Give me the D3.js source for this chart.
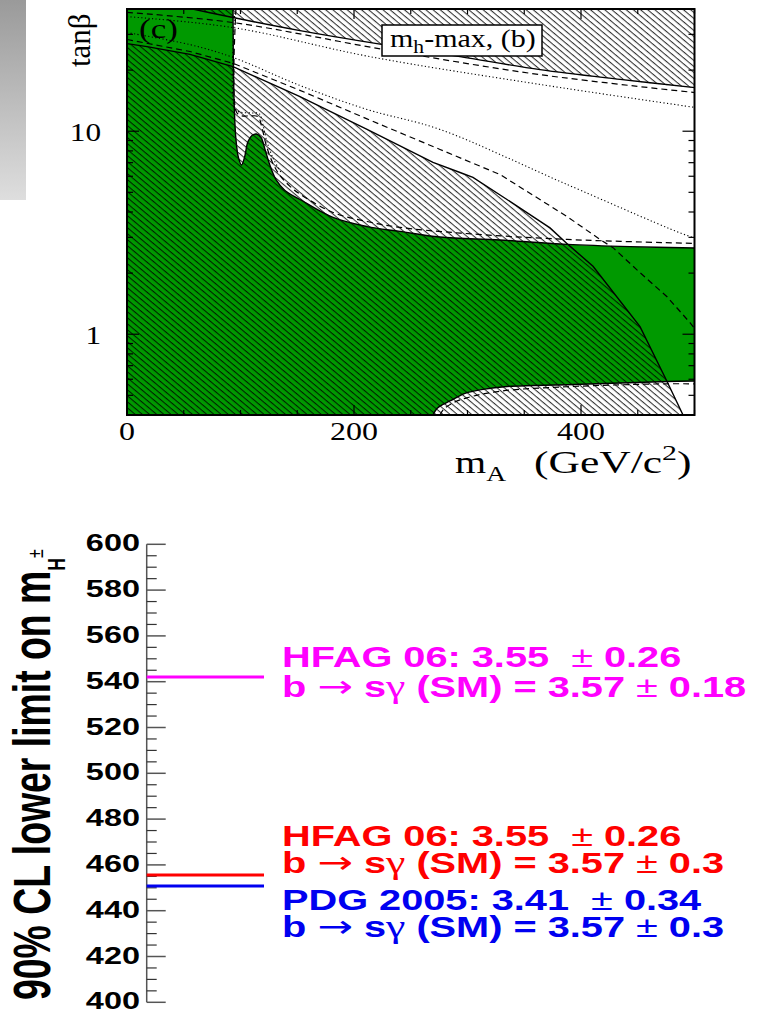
<!DOCTYPE html>
<html>
<head>
<meta charset="utf-8">
<script src="https://cdn.jsdelivr.net/npm/d3@7"></script>
<style>
  body { margin: 0; background: #fff; }
  svg { display: block; }
  text { white-space: pre; }
</style>
</head>
<body>
<svg id="fig" width="759" height="1011"></svg>
<script>
// ---------------- (mA, tanβ) exclusion plane ----------------
const massMajor = [0, 200, 400];
const massMinor = [50, 100, 150, 250, 300, 350, 450, 500];
const tanbMajor = [1, 10];
const tanbMinor = [0.4, 0.5, 0.6, 0.7, 0.8, 0.9, 2, 3, 4, 5, 6, 7, 8, 9, 20, 30, 40];

// edge of the unexcluded (white) region, running from the top down through the dip
const greenEdge = [
  [93.4, 40], [94.3, 14.3], [96.0, 9.10], [98.2, 7.41], [100.9, 6.82], [103.5, 7.41],
  [106.6, 8.89], [110.1, 9.52], [114.1, 9.69], [118.1, 9.31], [121.6, 8.13], [126.0, 6.78],
  [131.3, 5.78], [139.2, 5.11], [152.4, 4.61], [181.5, 3.76], [211.5, 3.39], [240.5, 3.21],
  [275.8, 3.01], [328.6, 2.91], [387.7, 2.77], [443.2, 2.70], [500.4, 2.66]
];
// low-tanβ lens at large mA
const lensEdge = [
  [269.6, 0.40], [273.1, 0.431], [278.4, 0.451], [284.6, 0.469], [297.8, 0.511], [313.7, 0.535],
  [334.8, 0.553], [357.7, 0.559], [393.0, 0.565], [434.4, 0.575], [475.8, 0.585], [500.4, 0.588]
];
// observed limits (solid)
const obsLower = [
  [0, 27.0], [17.6, 26.1], [55.5, 23.9], [93.4, 20.8], [152.4, 14.8], [211.5, 10.2],
  [269.6, 7.02], [293.4, 6.26], [304.8, 5.92], [334.8, 4.61], [372.7, 3.34], [388.5, 2.77],
  [410.6, 2.16], [452.0, 1.09], [475.8, 0.585], [489.9, 0.40]
];
const obsUpper = [
  [40, 42.0], [93.4, 36.3], [152.4, 31.3], [225.6, 26.7], [293.4, 23.3],
  [363.9, 20.1], [434.4, 18.0], [500.4, 16.4]
];
// expected limits (dashed) and their spread (dotted)
const expUpper = [[0, 38.5], [93.4, 34.3], [225.6, 25.3], [363.9, 19.0], [500.4, 15.5]];
const sigUpper = [[0, 36.7], [93.4, 32.4], [214.1, 23.3], [363.9, 17.0], [500.4, 13.1]];
const expLower = [
  [0, 28.3], [55.5, 24.7], [93.4, 21.6], [152.4, 15.9], [211.5, 11.5], [275.8, 8.13],
  [328.6, 6.12], [387.7, 3.80], [416.7, 2.93], [428.2, 2.67], [452.0, 2.01], [475.8, 1.53],
  [496.0, 1.14], [500.4, 1.06]
];
const sigLower = [
  [0, 30.6], [55.5, 26.7], [93.4, 23.1], [152.4, 16.8], [211.5, 12.8], [275.8, 10.2],
  [385.9, 5.52], [496.0, 3.03], [500.4, 3.0]
];
const expEdge = [
  [96.0, 40], [96.5, 12.4], [101.3, 11.9], [108.4, 11.9], [115.4, 11.8], [118.9, 10.4],
  [122.5, 8.60], [127.8, 7.10], [134.1, 6.12], [143.6, 5.35], [152.4, 4.90], [181.5, 3.98],
  [211.5, 3.59], [240.5, 3.36], [293.4, 3.15], [387.7, 2.93], [500.4, 2.80]
];
const sigEdge = [
  [95.2, 40], [95.2, 12.8], [100.5, 12.4], [110, 12.3], [116.5, 12.2], [120, 10.6],
  [123.5, 8.8], [129, 7.3], [135.5, 6.3]
];
const expLens = [
  [275.8, 0.40], [278.7, 0.4256], [286.3, 0.456], [299.3, 0.486], [328.6, 0.524],
  [387.4, 0.551], [475.5, 0.570], [500.4, 0.569]
];

// ---------------- charged Higgs mass limits ----------------
const limitAxisTicks = d3.range(400, 601, 20);
const limitAxisMinor = d3.range(400, 601, 5).filter(v => v % 20 !== 0);
const limitValues = [542, 455.6, 450.8];
const limitFirstLines = ["HFAG 06: 3.55  \u00b1 0.26", "HFAG 06: 3.55  \u00b1 0.26", "PDG 2005: 3.41  \u00b1 0.34"];
const limitSecondLines = ["b \u2192 s\u03b3 (SM) = 3.57 \u00b1 0.18", "b \u2192 s\u03b3 (SM) = 3.57 \u00b1 0.3", "b \u2192 s\u03b3 (SM) = 3.57 \u00b1 0.3"];

const limitColors = ["#ff00ff", "#ff0000", "#0000f0"];
const GREEN = "#009900";

const svg = d3.select("#fig");
const defs = svg.append("defs");

// side shading strip
const grad = defs.append("linearGradient").attr("id", "strip").attr("x1", 0).attr("x2", 0).attr("y1", 0).attr("y2", 1);
grad.append("stop").attr("offset", "0%").attr("stop-color", "#9a9a9a");
grad.append("stop").attr("offset", "100%").attr("stop-color", "#dedede");
svg.append("rect").attr("x", 0).attr("y", 0).attr("width", 26).attr("height", 200).attr("fill", "url(#strip)");

// ---- upper panel ----
const x = d3.scaleLinear().domain([0, 500]).range([127, 694.5]);
const y = d3.scaleLog().domain([0.4, 40]).range([415, 9]);
const [X0, X1] = x.range();
const [Y0, Y1] = y.range();

const hatch = defs.append("pattern").attr("id", "hatch")
  .attr("patternUnits", "userSpaceOnUse").attr("width", 12).attr("height", 4.6)
  .attr("patternTransform", "rotate(40)");
hatch.append("line").attr("x1", 0).attr("x2", 12).attr("y1", 0.6).attr("y2", 0.6)
  .attr("stroke", "#000").attr("stroke-width", 0.9);

defs.append("clipPath").attr("id", "frame")
  .append("rect").attr("x", X0).attr("y", Y1).attr("width", X1 - X0).attr("height", Y0 - Y1);

const plot = svg.append("g").attr("clip-path", "url(#frame)");

const smooth = d3.line().x(d => x(d[0])).y(d => y(d[1])).curve(d3.curveCatmullRom.alpha(0.5));
const straight = d3.line().x(d => x(d[0])).y(d => y(d[1]));

// excluded plane in green, with the unexcluded holes in white
plot.append("rect").attr("x", X0).attr("y", Y1).attr("width", X1 - X0).attr("height", Y0 - Y1).attr("fill", GREEN);
plot.append("path")
  .attr("d", smooth(greenEdge.concat([[520, 2.66], [520, 60], [93.4, 60]])))
  .attr("fill", "#fff");
plot.append("path")
  .attr("d", smooth([[262, 0.3]].concat(lensEdge, [[520, 0.588], [520, 0.3]])))
  .attr("fill", "#fff");

// hatched exclusion regions
plot.append("path")
  .attr("d", straight(obsLower.concat([[495, 0.3], [-10, 0.3], [-10, 27.0]])))
  .attr("fill", "url(#hatch)");
plot.append("path")
  .attr("d", smooth(obsUpper.concat([[520, 16.4], [520, 60], [40, 60]])))
  .attr("fill", "url(#hatch)");

// boundaries
const solid = (data, gen) => plot.append("path").attr("d", gen(data)).attr("fill", "none")
  .attr("stroke", "#000").attr("stroke-width", 1.4);
const dashed = (data, gen) => plot.append("path").attr("d", gen(data)).attr("fill", "none")
  .attr("stroke", "#000").attr("stroke-width", 1.2).attr("stroke-dasharray", "6,4");
const dotted = (data, gen) => plot.append("path").attr("d", gen(data)).attr("fill", "none")
  .attr("stroke", "#000").attr("stroke-width", 1.1).attr("stroke-dasharray", "1.2,2.4");

solid(greenEdge, smooth);
solid(lensEdge, smooth);
solid(obsLower, straight);
solid(obsUpper, smooth);
dashed(expUpper, smooth);
dotted(sigUpper, smooth);
dashed(expLower, straight);
dotted(sigLower, smooth);
dashed(expEdge, smooth);
dotted(sigEdge, smooth);
dashed(expLens, smooth);

// frame and ticks
const axes = svg.append("g").attr("stroke", "#000");
axes.append("rect").attr("x", X0).attr("y", Y1).attr("width", X1 - X0).attr("height", Y0 - Y1)
  .attr("fill", "none").attr("stroke-width", 2);
const vTick = (v, len) => {
  axes.append("line").attr("x1", x(v)).attr("x2", x(v)).attr("y1", Y0).attr("y2", Y0 - len).attr("stroke-width", 1.2);
  axes.append("line").attr("x1", x(v)).attr("x2", x(v)).attr("y1", Y1).attr("y2", Y1 + len).attr("stroke-width", 1.2);
};
const hTick = (v, len) => {
  axes.append("line").attr("y1", y(v)).attr("y2", y(v)).attr("x1", X0).attr("x2", X0 + len).attr("stroke-width", 1.2);
  axes.append("line").attr("y1", y(v)).attr("y2", y(v)).attr("x1", X1).attr("x2", X1 - len).attr("stroke-width", 1.2);
};
massMajor.forEach(v => vTick(v, 10));
massMinor.forEach(v => vTick(v, 5));
tanbMajor.forEach(v => hTick(v, 12));
tanbMinor.forEach(v => hTick(v, 6));

const serif = "'Liberation Serif', 'Times New Roman', serif";
const sText = (tx, ty, s, str, size, anchor) => svg.append("text")
  .attr("transform", `translate(${tx},${ty}) scale(${s},1)`)
  .attr("text-anchor", anchor || "start")
  .attr("font-family", serif).attr("font-size", size).attr("fill", "#000").text(str);

massMajor.forEach(v => sText(x(v), 440, 1.28, String(v), 25, "middle"));
tanbMajor.forEach(v => sText(101, y(v) + 10, 1.25, String(v), 25, "end"));

// axis titles
svg.append("text").attr("transform", "translate(90,67) rotate(-90)")
  .attr("font-family", serif).attr("font-size", 31).text("tan\u03b2");
const mA = sText(455, 473, 1.25, "m", 32);
mA.append("tspan").attr("font-size", 22).attr("dy", 8).text("A");
const unit = sText(534, 473, 1.36, "(GeV/c", 32);
unit.append("tspan").attr("font-size", 22).attr("dy", -13).text("2");
unit.append("tspan").attr("dy", 13).text(")");

// panel labels
sText(139, 38, 1.25, "(c)", 28);
svg.append("rect").attr("x", 382).attr("y", 25).attr("width", 160).attr("height", 31)
  .attr("fill", "#fff").attr("stroke", "#000").attr("stroke-width", 1.5);
const box = sText(390, 47, 1.2, "m", 25);
box.append("tspan").attr("font-size", 18).attr("dy", 6).text("h");
box.append("tspan").attr("dy", -6).text("-max, (b)");

// ---- lower panel ----
const yL = d3.scaleLinear().domain([400, 600]).range([1002.3, 544.3]);
const AX = 146.7;
const sans = "'Liberation Sans', Arial, Helvetica, sans-serif";
const low = svg.append("g");
low.append("line").attr("x1", AX).attr("x2", AX).attr("y1", yL(400)).attr("y2", yL(600))
  .attr("stroke", "#555").attr("stroke-width", 1.5);
limitAxisTicks.forEach(v => low.append("line").attr("x1", AX).attr("x2", AX + 19)
  .attr("y1", yL(v)).attr("y2", yL(v)).attr("stroke", "#555").attr("stroke-width", 1.5));
limitAxisMinor.forEach(v => low.append("line").attr("x1", AX).attr("x2", AX + 10)
  .attr("y1", yL(v)).attr("y2", yL(v)).attr("stroke", "#333").attr("stroke-width", 1.2));
limitAxisTicks.forEach(v => low.append("text")
  .attr("transform", `translate(140,${yL(v) + 7}) scale(1.37,1)`)
  .attr("text-anchor", "end").attr("font-family", sans).attr("font-weight", "bold")
  .attr("font-size", 23.7).text(v));

// rotated axis title
const ttl = low.append("text").attr("transform", "translate(50,1000) scale(1.38,1) rotate(-90)")
  .attr("font-family", sans).attr("font-weight", "bold").attr("font-size", 37.4)
  .text("90% CL lower limit on m");
ttl.append("tspan").attr("font-size", 17.5).attr("dy", 11).text("H");
ttl.append("tspan").attr("font-size", 16).attr("dy", -16).attr("font-weight", "normal").text("\u00b1");

// limit markers
limitValues.forEach((v, i) => low.append("line").attr("x1", AX).attr("x2", 264)
  .attr("y1", yL(v)).attr("y2", yL(v)).attr("stroke", limitColors[i]).attr("stroke-width", 3));

// text with the symbol glyphs drawn in a light face
function richText(tx, ty, str, color) {
  const t = low.append("text").attr("transform", `translate(${tx},${ty}) scale(1.37,1)`)
    .attr("font-family", sans).attr("font-weight", "bold").attr("font-size", 29).attr("fill", color);
  str.split(/([\u00b1\u2192\u03b3])/).filter(s => s.length).forEach(s => {
    const sp = t.append("tspan").text(s);
    if (s === "\u00b1") sp.attr("font-weight", "normal").attr("font-size", 29);
    if (s === "\u2192") sp.attr("font-weight", "normal").attr("font-family", "'DejaVu Sans', sans-serif").attr("font-size", 31);
    if (s === "\u03b3") sp.attr("font-weight", "normal").attr("font-family", serif).attr("font-size", 32);
  });
}
const firstBaselines = [667.3, 846, 910];
const secondBaselines = [696.7, 873.3, 936.7];
limitValues.forEach((v, i) => {
  richText(282, firstBaselines[i], limitFirstLines[i], limitColors[i]);
  richText(282, secondBaselines[i], limitSecondLines[i], limitColors[i]);
});
</script>
</body>
</html>
